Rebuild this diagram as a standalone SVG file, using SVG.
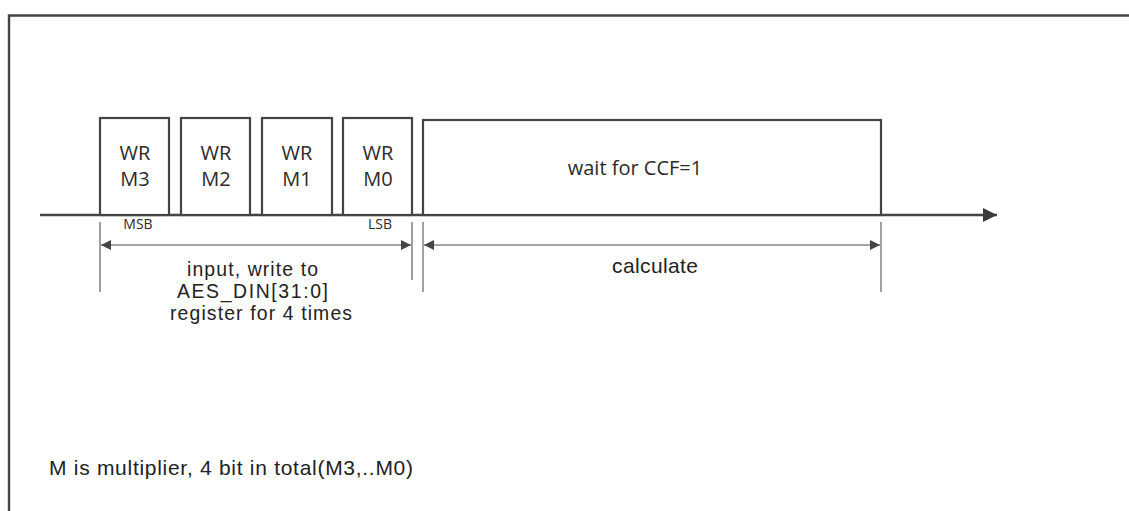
<svg xmlns="http://www.w3.org/2000/svg" width="1129" height="511" viewBox="0 0 1129 511">
<style>
.box{fill:#fff;stroke:#444;stroke-width:2.2}
.lbl{font-family:"Open Sans",sans-serif;font-size:20px;fill:#2a2a2a;text-anchor:middle}
.sm{font-family:"Open Sans",sans-serif;font-size:14px;fill:#2a2a2a;text-anchor:middle}
.txt{font-family:"Liberation Sans",Arial,sans-serif;font-size:21px;fill:#222;text-anchor:middle}
.stk{font-size:19.4px}
.dim{stroke:#888;stroke-width:1.6;fill:none}
.tick{stroke:#777;stroke-width:1.4}
</style>
<defs>
<marker id="ah" viewBox="0 0 10 10" refX="10" refY="5" markerWidth="16" markerHeight="10" markerUnits="userSpaceOnUse" orient="auto-start-reverse">
<path d="M0,0 L10,5 L0,10 Z" fill="#444"/>
</marker>
<marker id="big" viewBox="0 0 10 10" refX="10" refY="5" markerWidth="20" markerHeight="14" markerUnits="userSpaceOnUse" orient="auto">
<path d="M0,0 L10,5 L0,10 Z" fill="#3a3a3a"/>
</marker>
</defs>
<rect width="1129" height="511" fill="#fff"/>
<path d="M9,511 V15.5 H1129" fill="none" stroke="#444" stroke-width="2.4"/>
<g id="connectors">
<line x1="40" y1="215" x2="997" y2="215" stroke="#444" stroke-width="2.6" marker-end="url(#big)"/>
<line class="tick" x1="100" y1="222" x2="100" y2="292"/>
<line class="tick" x1="412" y1="222" x2="412" y2="280"/>
<line class="tick" x1="423" y1="222" x2="423" y2="292"/>
<line class="tick" x1="881" y1="222" x2="881" y2="292"/>
<line class="dim" x1="101" y1="245" x2="411" y2="245" marker-start="url(#ah)" marker-end="url(#ah)"/>
<line class="dim" x1="424" y1="245" x2="880" y2="245" marker-start="url(#ah)" marker-end="url(#ah)"/>
</g>
<g id="wr-m3"><rect class="box" x="100" y="118" width="69" height="97"/><text class="lbl" x="135" y="160">WR</text><text class="lbl" x="135" y="186">M3</text></g>
<g id="wr-m2"><rect class="box" x="181" y="118" width="69" height="97"/><text class="lbl" x="216" y="160">WR</text><text class="lbl" x="216" y="186">M2</text></g>
<g id="wr-m1"><rect class="box" x="262" y="118" width="70" height="97"/><text class="lbl" x="297" y="160">WR</text><text class="lbl" x="297" y="186">M1</text></g>
<g id="wr-m0"><rect class="box" x="343" y="118" width="69" height="97"/><text class="lbl" x="378" y="160">WR</text><text class="lbl" x="378" y="186">M0</text></g>
<g id="wait"><rect class="box" x="423" y="120" width="458" height="95"/><text class="lbl" x="635" y="175">wait for CCF=1</text></g>
<g id="labels">
<text class="sm" x="138" y="229">MSB</text>
<text class="sm" x="380" y="229">LSB</text>
<text class="txt stk" x="252.5" y="276" textLength="131">input, write to</text>
<text class="txt stk" x="252.5" y="298" textLength="151">AES_DIN[31:0]</text>
<text class="txt stk" x="261" y="320" textLength="182">register for 4 times</text>
<text class="txt" x="655" y="273" textLength="86">calculate</text>
<text class="txt" x="49" y="475" textLength="364" style="text-anchor:start">M is multiplier, 4 bit in total(M3,..M0)</text>
</g>
</svg>
